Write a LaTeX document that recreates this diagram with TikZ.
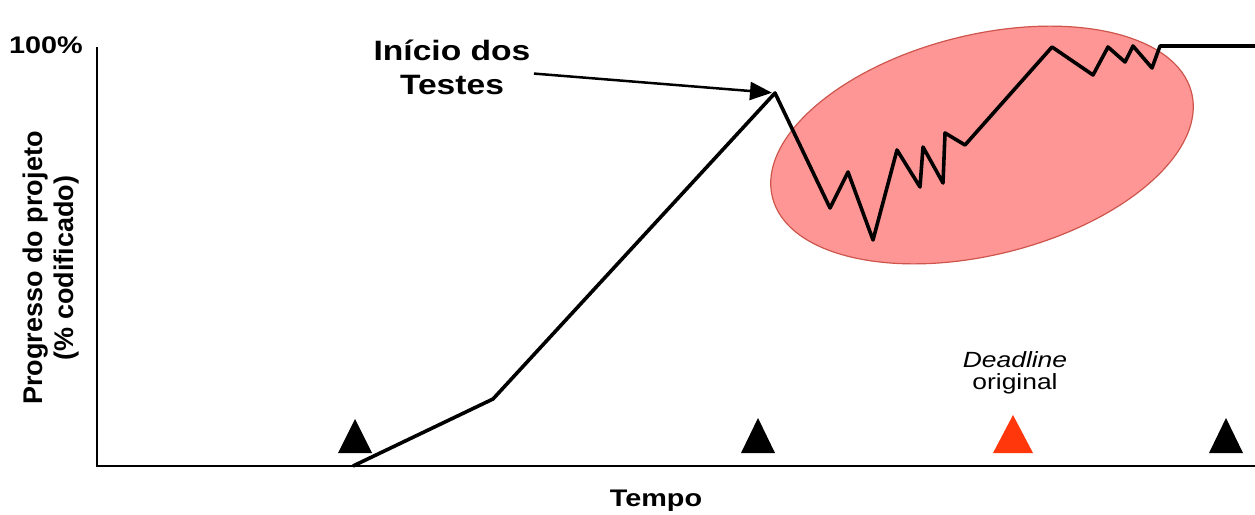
\documentclass[tikz,border=0pt]{standalone}
\usepackage{fontspec}
\setmainfont{Liberation Sans}
\newfontfamily\wfont[FakeStretch=1.2]{Liberation Sans}
\usetikzlibrary{arrows.meta}
\definecolor{blobfill}{RGB}{255,150,150}
\definecolor{blobdraw}{RGB}{205,85,75}
\definecolor{deadred}{RGB}{255,55,10}
\begin{document}
\begin{tikzpicture}[x=1pt,y=-1pt,
  axis/.style={line width=2.8pt},
  prog/.style={line width=3.6pt, line join=round},
  callout/.style={line width=2.5pt, -{Triangle[length=22pt,width=18pt]}, shorten >=3pt},
  blob/.style={fill=blobfill, draw=blobdraw, line width=1.2pt},
  milestone/.style={fill=black},
  deadtri/.style={fill=deadred},
]
\useasboundingbox (0,0) rectangle (1255,514);
% highlighted region
\draw[blob, rotate around={14:(982,145)}] (982,145) ellipse [x radius=216, y radius=110];
% axes
\coordinate (ytop) at (97,47);
\coordinate (O) at (97,466);
\coordinate (xend) at (1255,466);
\draw[axis] (ytop) -- (O) -- (xend);
% milestones
\fill[milestone] (338,453) -- (372,453) -- (355,419) -- cycle;
\fill[milestone] (741,453) -- (775,453) -- (758,418) -- cycle;
\fill[deadtri] (993,453) -- (1033,453) -- (1013,415) -- cycle;
\fill[milestone] (1209,453) -- (1243,453) -- (1226,418) -- cycle;
% progress curve
\coordinate (peak) at (775,93);
\draw[prog] (353,466) -- (493,399) -- (peak) -- (830,208) -- (848,172) -- (873,240)
  -- (897,150) -- (920,187) -- (923,147) -- (943,183) -- (945,133) -- (965,145)
  -- (1052,47) -- (1093,75) -- (1108,47) -- (1125,62) -- (1133,46) -- (1152,68)
  -- (1160,46) -- (1255,46);
% labels
\node[font={\wfont\bfseries\fontsize{24}{28}\selectfont}, anchor=base east, inner sep=0pt] (pct) at (83,53) {100\%};
\node[rotate=90, align=center, font={\bfseries\fontsize{27}{31}\selectfont}] (ylab) at (51,268) {Progresso do projeto\\(\% codificado)};
\node[align=center, font={\wfont\bfseries\fontsize{28}{34}\selectfont}] (testes) at (452,67) {Início dos\\Testes};
\draw[callout] (testes) -- (peak);
\node[align=center, font={\wfont\fontsize{22}{22}\selectfont}] (dl) at (1015,373) {\textit{Deadline}\\original};
\node[font={\wfont\bfseries\fontsize{24}{28}\selectfont}] (tempo) at (656,501) {Tempo};
\end{tikzpicture}
\end{document}
